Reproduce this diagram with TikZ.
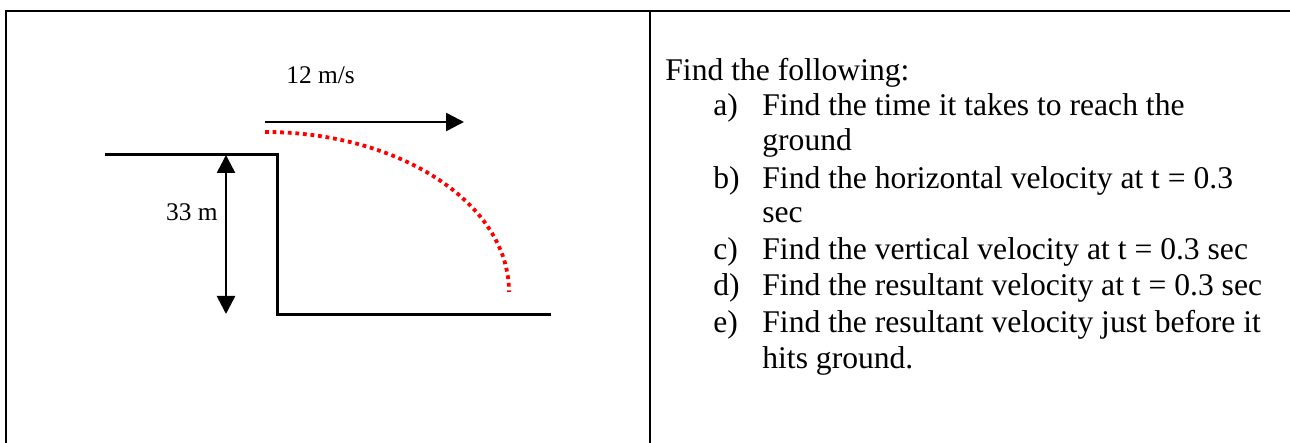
\documentclass[tikz,border=0pt]{standalone}
\usepackage{fontspec}
\setmainfont{Liberation Serif}
\usetikzlibrary{arrows.meta}

\tikzset{
  frame/.style={line width=1.2pt},
  cliff/.style={line width=1.5pt},
  dimarrow/.style={line width=1.3pt, {Triangle[length=9pt,width=9pt]}-{Triangle[length=9pt,width=9pt]}},
  velarrow/.style={line width=1.3pt, -{Triangle[length=9pt,width=9pt]}},
  flight/.style={red, line width=1.9pt, dash pattern=on 1.9pt off 1.9pt},
  lbl/.style={inner sep=0pt, font=\fontsize{12.7}{15}\selectfont},
  txt/.style={inner sep=0pt, anchor=base west, font=\fontsize{15.8}{18}\selectfont},
}

\begin{document}
\begin{tikzpicture}[x=0.5pt,y=-0.5pt]
            \useasboundingbox (0,0) rectangle (1290,443);

            % table
            \coordinate (tl) at (6,443);
            \coordinate (tt) at (6,11);
            \coordinate (tr) at (1290,11);
            \coordinate (mid) at (650,11);
            \coordinate (midb) at (650,443);
            \draw[frame] (tl)--(tt)--(tr);
            \draw[frame] (mid)--(midb);

            % cliff and ground
            \coordinate (ledge) at (105,155);
            \coordinate (edge) at (277,155);
            \coordinate (foot) at (277,314);
            \coordinate (groundend) at (551,314);
            \draw[cliff] (ledge)--(edge)--(foot)--(groundend);

            % height
            \coordinate (htop) at (226,155);
            \coordinate (hbot) at (226,314);
            \draw[dimarrow] (htop)--(hbot);
            \node[lbl, anchor=base east] (hlabel) at (218,221) {33 m};

            % launch velocity
            \coordinate (vstart) at (265,122);
            \coordinate (vend) at (464,122);
            \draw[velarrow] (vstart)--(vend);
            \node[lbl, anchor=base west] (vlabel) at (286,84) {12 m/s};

            % path of the ball
            \coordinate (launch) at (265,132);
            \draw[flight] (launch) arc[start angle=270, end angle=360, x radius=244, y radius=160];

            % questions
            \node[txt] (head) at (665,81) {Find the following:};
            \node[txt] (qa) at (713,116) {a)};
            \node[txt] (qatext) at (762,116) {Find the time it takes to reach the};
            \node[txt] (qatext2) at (762,151) {ground};
            \node[txt] (qb) at (713,189) {b)};
            \node[txt] (qbtext) at (762,189) {Find the horizontal velocity at t = 0.3};
            \node[txt] (qbtext2) at (762,223) {sec};
            \node[txt] (qc) at (713,260) {c)};
            \node[txt] (qctext) at (762,260) {Find the vertical velocity at t = 0.3 sec};
            \node[txt] (qd) at (713,296) {d)};
            \node[txt] (qdtext) at (762,296) {Find the resultant velocity at t = 0.3 sec};
            \node[txt] (qe) at (713,332) {e)};
            \node[txt] (qetext) at (762,332) {Find the resultant velocity just before it};
            \node[txt] (qetext2) at (762,368) {hits ground.};
\end{tikzpicture}
\end{document}
